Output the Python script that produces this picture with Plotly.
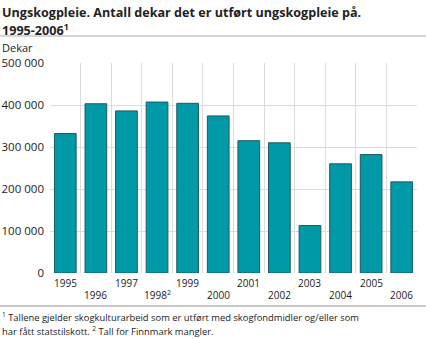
import plotly.graph_objects as go

# Ungskogpleie, dekar per år
years = ["1995", "1996", "1997", "1998", "1999", "2000",
         "2001", "2002", "2003", "2004", "2005", "2006"]
year_labels = ["1995", "1996", "1997", "1998<sup>2</sup>", "1999", "2000",
               "2001", "2002", "2003", "2004", "2005", "2006"]
dekar = [332000, 403000, 386000, 407000, 404000, 374000,
         315000, 310000, 113000, 260000, 282000, 217000]
y_ticks = [0, 100000, 200000, 300000, 400000, 500000]

title_lines = ["<b>Ungskogpleie. Antall dekar det er utført ungskogpleie på.</b>",
               "<b>1995-2006<sup>1</sup></b>"]
note_lines = ["<sup>1</sup> Tallene gjelder skogkulturarbeid som er utført med skogfondmidler og/eller som",
              "har fått statstilskott. <sup>2</sup> Tall for Finnmark mangler."]

W, H = 426, 339
ML, MR, MT, MB = 50, 9, 63, 66
PW, PH = W - ML - MR, H - MT - MB

FONT = "Open Sans"
TXT = "#222222"


def px_x(px):
    return (px - ML) / PW


def px_y(py):
    return (H - MB - py) / PH


def text_at(text, px, py, size, anchor="left"):
    return dict(x=px_x(px), xref="paper", y=px_y(py), yref="paper",
                xanchor=anchor, yanchor="middle", align="left", showarrow=False,
                text=text, borderpad=0, font=dict(family=FONT, size=size, color=TXT))


xs = list(range(len(years)))

fig = go.Figure(go.Bar(
    x=xs, y=dekar, width=0.71,
    marker=dict(color="#0099a8", line=dict(color="#1f5a60", width=1)),
    hoverinfo="skip",
))

annotations = []
# year labels in two staggered rows
for i, lab in enumerate(year_labels):
    annotations.append(dict(
        x=i, xref="x", y=px_y(282.5 if i % 2 == 0 else 294.5), yref="paper",
        text=lab, showarrow=False, xanchor="center", yanchor="middle", borderpad=0,
        font=dict(family=FONT, size=10, color=TXT),
    ))

annotations += [
    text_at(title_lines[0], 1, 13, 12.6),
    text_at(title_lines[1], 1, 30, 12.6),
    text_at("Dekar", 1, 47, 11),
    text_at(note_lines[0], 1, 316.5, 9.4),
    text_at(note_lines[1], 1, 330.5, 9.4),
]

shapes = [
    dict(type="line", xref="paper", yref="paper", x0=px_x(0), x1=px_x(W),
         y0=px_y(36), y1=px_y(36), line=dict(color="#c8c8c8", width=1.5)),
    dict(type="line", xref="paper", yref="paper", x0=px_x(0), x1=px_x(W),
         y0=px_y(306), y1=px_y(306), line=dict(color="#c8c8c8", width=2)),
]

fig.update_layout(
    width=W, height=H,
    margin=dict(l=ML, r=MR, t=MT, b=MB, pad=0),
    paper_bgcolor="white", plot_bgcolor="white",
    showlegend=False, separators=", ",
    font=dict(family=FONT, size=12, color=TXT),
    annotations=annotations, shapes=shapes,
    xaxis=dict(
        range=[-0.5, len(years) - 0.5], tickvals=xs, showticklabels=False,
        showgrid=False, zeroline=False, showline=False, ticks="", automargin=False,
        minor=dict(tickvals=[i - 0.5 for i in range(len(years) + 1)],
                   showgrid=True, gridcolor="#dcdcdc", gridwidth=1, ticks=""),
    ),
    yaxis=dict(
        range=[0, 500000], tickvals=y_ticks, tickformat=",d",
        showgrid=True, gridcolor="#dcdcdc", gridwidth=1, automargin=False,
        zeroline=False, showline=False, ticks="", ticklabelstandoff=5,
        tickfont=dict(family=FONT, size=11.5, color=TXT),
    ),
)

fig.write_html("out.html")
